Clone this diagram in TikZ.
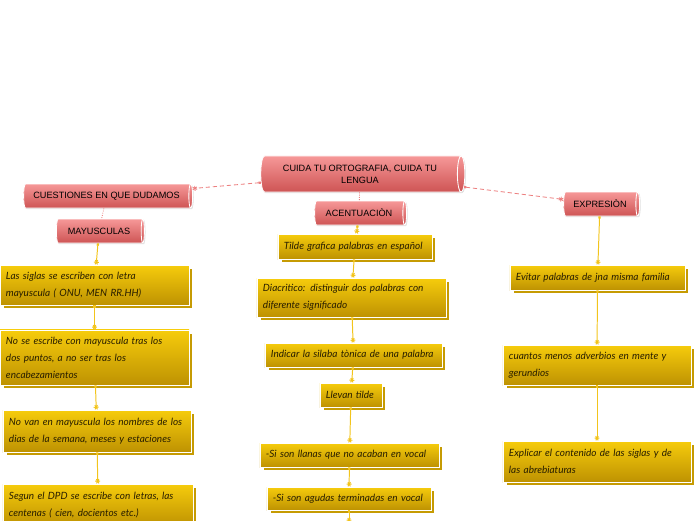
\documentclass[tikz,border=0pt]{standalone}
\usepackage{fontspec}
\setmainfont{Liberation Sans}
\newfontfamily\handfont{Lato}
\usepackage{tikz}
\usetikzlibrary{arrows.meta,positioning,shapes.geometric,shadows}
\definecolor{cyltop}{RGB}{246,152,152}
\definecolor{cylbot}{RGB}{206,84,84}
\definecolor{ytop}{RGB}{246,204,12}
\definecolor{ybot}{RGB}{190,146,2}
\definecolor{linkyellow}{RGB}{242,196,28}
\definecolor{linkred}{RGB}{236,128,128}
\definecolor{notetext}{RGB}{40,30,0}
\tikzset{
  % cylinder sizes: minimum height is the long side, minimum width the thickness
  topic/.style={shape=cylinder, shape aspect=0.35, draw=white, line width=0.6pt,
    top color=cyltop, bottom color=cylbot, minimum width=0.6cm, inner sep=1pt,
    font=\fontsize{6.5}{8.5}\selectfont, align=center,
    drop shadow={shadow xshift=0.8pt, shadow yshift=-0.8pt, opacity=0.25}},
  note/.style={draw=white, line width=0.6pt, top color=ytop, bottom color=ybot,
    inner xsep=0.15cm, inner ysep=2pt, align=left, text=notetext,
    font=\handfont\itshape\fontsize{7.1}{12}\selectfont,
    copy shadow={shadow xshift=2.1pt, shadow yshift=-2.1pt, fill=ybot!85!ytop, draw=white}},
  arr/.style={linkyellow, line width=0.7pt, {Square[length=1.6pt,width=1.6pt]}-{Rays[n=6,length=3.5pt]}},
  arrd/.style={linkred, line width=0.6pt, densely dashed, {Square[length=1.6pt,width=1.6pt]}-{Rays[n=6,length=3.5pt]}},
  arrs/.style={linkred, line width=0.6pt, densely dotted},
}
\begin{document}
\begin{tikzpicture}[x=0.025cm, y=-0.025cm]
  \useasboundingbox (0,0) rectangle (696,520);
  % red topics
  \node[topic, minimum height=5.1cm, minimum width=0.9cm] (main) at (360,174) {CUIDA TU ORTOGRAFIA, CUIDA TU\\LENGUA};
  \node[topic, minimum height=4.225cm] (cq) at (106.5,196) {CUESTIONES EN QUE DUDAMOS};
  \node[topic, minimum height=2.2cm] (mayus) at (99,231) {MAYUSCULAS};
  \node[topic, minimum height=2.3cm] (acen) at (359,213) {ACENTUACIÒN};
  \node[topic, minimum height=1.9cm] (expr) at (600,204) {EXPRESIÒN};
  \draw[arrd] (main) -- (cq);
  \draw[arrd] (main) -- (expr);
  \draw[arrs] (main) -- (acen);
  \draw[arrs] (cq) -- (mayus);

  % mayusculas
  \node[note, text width=4.425cm, minimum height=1.0cm] (m1) at (94.5,285) {Las siglas se escriben con letra\\mayuscula ( ONU, MEN RR.HH)};
  \node[note, text width=4.425cm, minimum height=1.375cm] (m2) at (94.5,357.5) {No se escribe con mayuscula tras los\\dos puntos, a no ser tras los\\encabezamientos};
  \node[note, text width=4.4cm, minimum height=1.05cm] (m3) at (97,431) {No van en mayuscula los nombres de los\\dias de la semana, meses y estaciones};
  \node[note, text width=4.45cm, minimum height=1.05cm] (m4) at (98,505) {Segun el DPD se escribe con letras, las\\centenas ( cien, docientos etc.)};
  \draw[arr] (mayus) -- (m1);
  \draw[arr] (m1) -- (m2);
  \draw[arr] (m2) -- (m3);
  \draw[arr] (m3) -- (m4);

  % acentuacion
  \node[note, text width=3.55cm, minimum height=0.625cm] (a1) at (355,246.5) {Tilde grafica palabras en español};
  \node[note, text width=4.425cm, minimum height=0.975cm] (a2) at (351.5,297.5) {Diacritico: distinguir dos palabras con\\diferente significado};
  \node[note, text width=4.125cm, minimum height=0.6cm] (a3) at (353.5,355) {Indicar la silaba tònica de una palabra};
  \node[note, text width=1.25cm, minimum height=0.6cm] (a4) at (351,395) {Llevan tilde};
  \node[note, text width=4.175cm, minimum height=0.6cm] (a5) at (349.5,455) {-Si son llanas que no acaban en vocal};
  \node[note, text width=3.8cm, minimum height=0.575cm] (a6) at (349,498.5) {-Si son agudas terminadas en vocal};
  \draw[arr] (acen) -- (a1);
  \draw[arr] (a1) -- (a2);
  \draw[arr] (a2) -- (a3);
  \draw[arr] (a3) -- (a4);
  \draw[arr] (a4) -- (a5);
  \draw[arr] (a5) -- (a6);
  \draw[arr] (a6.south) -- ++(0,12);

  % expresion
  \node[note, text width=4.075cm, minimum height=0.625cm] (e1) at (597.5,277.5) {Evitar palabras de jna misma familia};
  \node[note, text width=4.4cm, minimum height=1.0cm] (e2) at (597,365) {cuantos menos adverbios en mente y\\gerundios};
  \node[note, text width=4.4cm, minimum height=1.025cm] (e3) at (597,461.5) {Explicar el contenido de las siglas y de\\las abrebiaturas};
  \draw[arr] (expr) -- (e1);
  \draw[arr] (e1) -- (e2);
  \draw[arr] (e2) -- (e3);
\end{tikzpicture}
\end{document}
